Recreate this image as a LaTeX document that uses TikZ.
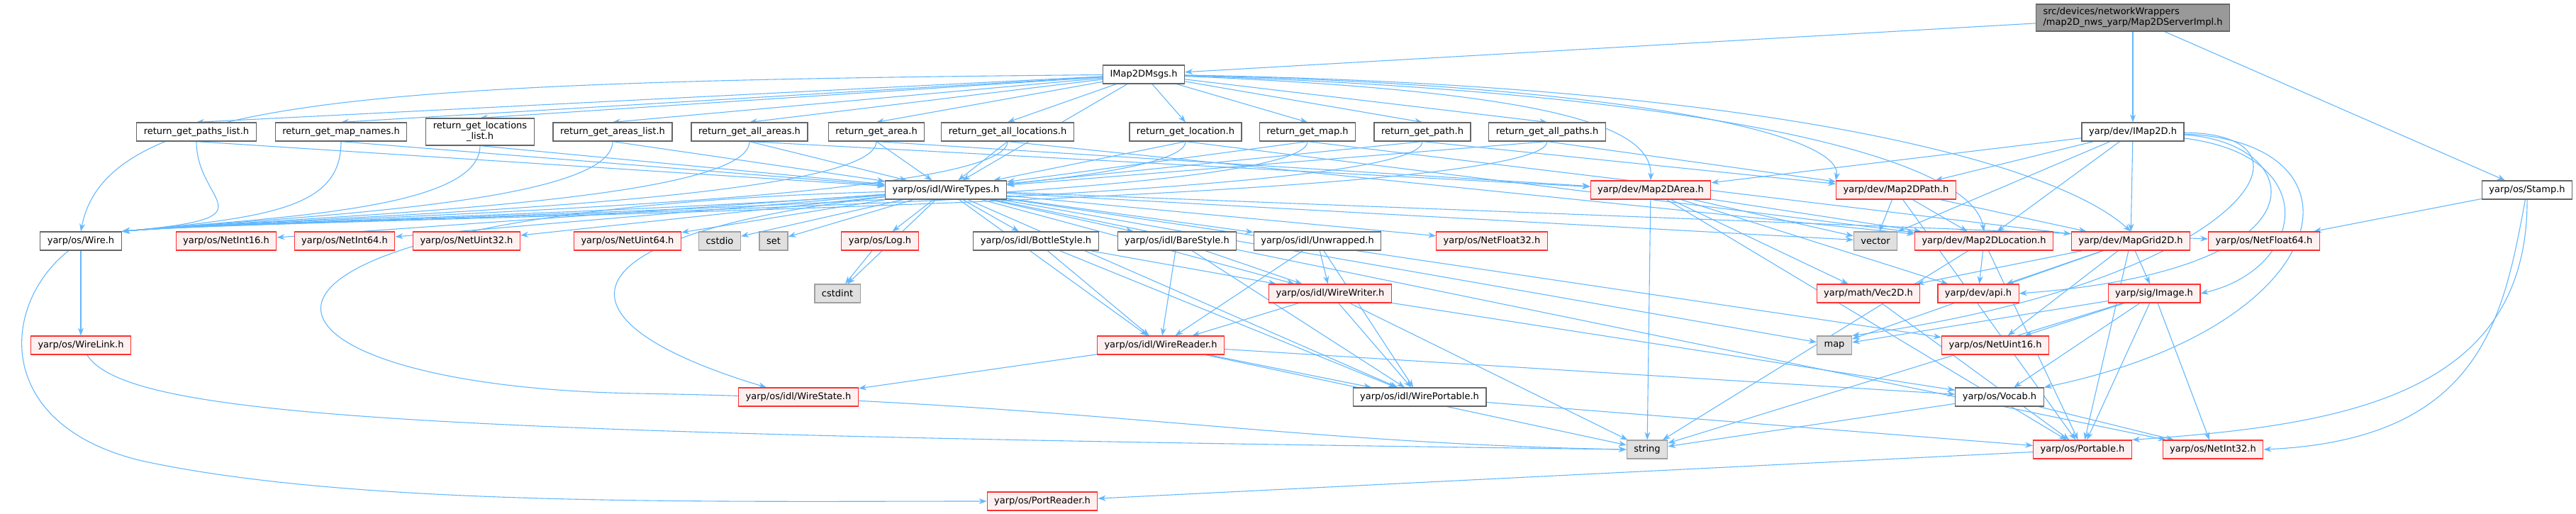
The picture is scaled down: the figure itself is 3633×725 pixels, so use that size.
\documentclass[tikz,border=0pt]{standalone}
\usepackage{fontspec}
\setmainfont{DejaVu Sans}
\usepackage{tikz}
\usetikzlibrary{arrows.meta,backgrounds}

\definecolor{edgeblue}{HTML}{63B8FF}
\definecolor{redfill}{HTML}{FFF0F0}
\definecolor{redline}{HTML}{FF3030}
\definecolor{sysfill}{HTML}{E0E0E0}
\definecolor{sysline}{HTML}{A0A0A0}
\definecolor{srcfill}{HTML}{999999}
\definecolor{boxline}{HTML}{666666}

\tikzset{
  filebox/.style={draw=boxline, fill=white, line width=1.2pt, inner xsep=10pt,
    inner ysep=3pt, minimum height=26pt, font=\fontsize{13}{15}\selectfont},
  redbox/.style={filebox, draw=redline, fill=redfill},
  sysbox/.style={filebox, draw=sysline, fill=sysfill},
  srcbox/.style={filebox, fill=srcfill, align=left, inner ysep=5pt},
  dep/.style={->, draw=edgeblue, line width=1.1pt}
}

\begin{document}
\begin{tikzpicture}[x=1pt, y=-1pt, >={Stealth[length=11pt,width=8pt]}]

  \useasboundingbox (0,0) rectangle (3633,725);

  % top: the file itself and what it pulls in first
  \node[srcbox] (src) at (3008,25)
    {src/devices/networkWrappers\\/map2D\_nws\_yarp/Map2DServerImpl.h};
  \node[filebox] (msgs) at (1613,105) {IMap2DMsgs.h};

  % return_* helpers
  \node[filebox] (rpl)  at (277,186)  {return\_get\_paths\_list.h};
  \node[filebox] (rmn)  at (481,186)  {return\_get\_map\_names.h};
  \node[filebox, align=center, inner ysep=5pt] (rll) at (677,186)
    {return\_get\_locations\\\_list.h};
  \node[filebox] (ral)  at (864,186)  {return\_get\_areas\_list.h};
  \node[filebox] (raa)  at (1057,186) {return\_get\_all\_areas.h};
  \node[filebox] (rar)  at (1236,186) {return\_get\_area.h};
  \node[filebox] (ralo) at (1421,186) {return\_get\_all\_locations.h};
  \node[filebox] (rlo)  at (1672,186) {return\_get\_location.h};
  \node[filebox] (rma)  at (1844,186) {return\_get\_map.h};
  \node[filebox] (rpa)  at (2006,186) {return\_get\_path.h};
  \node[filebox] (rap)  at (2182,186) {return\_get\_all\_paths.h};
  \node[filebox] (imap) at (3008,186) {yarp/dev/IMap2D.h};

  % second level
  \node[filebox] (wtypes) at (1334,268) {yarp/os/idl/WireTypes.h};
  \node[redbox]  (area)   at (2328,268) {yarp/dev/Map2DArea.h};
  \node[redbox]  (mpath)  at (2674,268) {yarp/dev/Map2DPath.h};
  \node[filebox] (stamp)  at (3564,268) {yarp/os/Stamp.h};

  % third level
  \node[filebox] (wire)      at (114,340)  {yarp/os/Wire.h};
  \node[redbox]  (ni16)      at (319,340)  {yarp/os/NetInt16.h};
  \node[redbox]  (ni64)      at (486,340)  {yarp/os/NetInt64.h};
  \node[redbox]  (nu32)      at (658,340)  {yarp/os/NetUint32.h};
  \node[redbox]  (nu64)      at (885,340)  {yarp/os/NetUint64.h};
  \node[sysbox]  (cstdio)    at (1015,340) {cstdio};
  \node[sysbox]  (set)       at (1091,340) {set};
  \node[redbox]  (log)       at (1241,340) {yarp/os/Log.h};
  \node[filebox] (bstyle)    at (1461,340) {yarp/os/idl/BottleStyle.h};
  \node[filebox] (barestyle) at (1660,340) {yarp/os/idl/BareStyle.h};
  \node[filebox] (unwr)      at (1858,340) {yarp/os/idl/Unwrapped.h};
  \node[redbox]  (nf32)      at (2104,340) {yarp/os/NetFloat32.h};
  \node[sysbox]  (vector)    at (2645,340) {vector};
  \node[redbox]  (loc)       at (2798,340) {yarp/dev/Map2DLocation.h};
  \node[redbox]  (grid)      at (3005,340) {yarp/dev/MapGrid2D.h};
  \node[redbox]  (nf64)      at (3193,340) {yarp/os/NetFloat64.h};

  % fourth level
  \node[sysbox] (cstdint) at (1181,414) {cstdint};
  \node[redbox] (wwriter) at (1876,414) {yarp/os/idl/WireWriter.h};
  \node[redbox] (vec2d)   at (2635,414) {yarp/math/Vec2D.h};
  \node[redbox] (api)     at (2790,414) {yarp/dev/api.h};
  \node[redbox] (image)   at (3038,414) {yarp/sig/Image.h};

  % fifth level
  \node[redbox] (wlink)   at (114,487)  {yarp/os/WireLink.h};
  \node[redbox] (wreader) at (1637,487) {yarp/os/idl/WireReader.h};
  \node[sysbox] (map)     at (2587,487) {map};
  \node[redbox] (nu16)    at (2814,487) {yarp/os/NetUint16.h};

  % sixth level
  \node[redbox]  (wstate) at (1126,560) {yarp/os/idl/WireState.h};
  \node[filebox] (wport)  at (2002,560) {yarp/os/idl/WirePortable.h};
  \node[filebox] (vocab)  at (2820,560) {yarp/os/Vocab.h};

  % bottom
  \node[sysbox] (string)   at (2323,634) {string};
  \node[redbox] (portable) at (2937,634) {yarp/os/Portable.h};
  \node[redbox] (ni32)     at (3121,634) {yarp/os/NetInt32.h};
  \node[redbox] (preader)  at (1470,707) {yarp/os/PortReader.h};

  \begin{scope}[on background layer]
    % plain straight dependencies
    \foreach \a/\b in {src/msgs, src/imap, src/stamp, msgs/wtypes,
        wtypes/ni16, wtypes/ni64, wtypes/nu32, wtypes/nu64, wtypes/cstdio,
        wtypes/set, wtypes/log, wtypes/bstyle, wtypes/barestyle, wtypes/unwr,
        wtypes/nf32, wtypes/cstdint, wtypes/wreader, wtypes/wwriter,
        wtypes/wport, wtypes/vector, wtypes/map, wtypes/nf64, wtypes/ni32,
        wtypes/nu16,
        log/cstdint,
        bstyle/wreader, bstyle/wwriter, bstyle/wport,
        barestyle/wreader, barestyle/wwriter, barestyle/wport,
        unwr/wreader, unwr/wwriter, unwr/wport,
        wwriter/wreader, wwriter/wport, wwriter/string, wwriter/vocab,
        wreader/wstate, wreader/wport, wreader/string, wreader/vocab,
        wport/portable, wire/wlink, vocab/string, vocab/ni32,
        portable/preader,
        area/string, area/loc, area/vector, area/api, area/vec2d,
        area/portable,
        mpath/vector, mpath/loc, mpath/grid, mpath/portable,
        loc/api, loc/string, loc/portable,
        imap/area, imap/mpath, imap/vector, imap/loc, imap/grid,
        grid/image, grid/api, grid/vec2d, grid/map, grid/nu16, grid/portable,
        image/map, image/nu16, image/vocab, image/portable, image/ni32,
        image/string,
        vec2d/portable, stamp/nf64}
      \draw[dep] (\a) -- (\b);

    % every return_* file needs Wire.h and WireTypes.h
    \foreach \r in {rpl, rmn, rll, ral, raa, rar, ralo, rlo, rma, rpa, rap} {
      \draw[dep] (msgs) -- (\r.north);
      \draw[dep] (\r.south) .. controls +(0,90) and +(220,-20) .. (wire.north east);
      \draw[dep] (\r.south) -- (wtypes);
    }
    \foreach \a/\b in {rar/area, raa/area, rlo/loc, ralo/loc, rma/grid,
        rpa/mpath, rap/mpath}
      \draw[dep] (\a.south) -- (\b);

    % long routed edges
    \draw[dep] (msgs) .. controls (500,115) and (150,140) .. (wire.north);
    \draw[dep] (msgs) .. controls (2200,130) and (2330,180) .. (area.north);
    \draw[dep] (msgs) .. controls (2300,120) and (2600,190) .. (mpath.north west);
    \draw[dep] (msgs) .. controls (2400,130) and (2780,220) .. (loc.north);
    \draw[dep] (msgs) .. controls (2500,120) and (2900,230) .. (grid.north);
    \draw[dep] (wire) .. controls (0,430) and (-10,600) .. (200,650)
      .. controls (500,715) and (1000,707) .. (preader.west);
    \draw[dep] (wlink) .. controls (180,590) and (600,612) .. (string.west);
    \draw[dep] (wtypes) .. controls (200,300) and (300,545) .. (900,555)
      .. controls (1500,565) and (1800,625) .. (string.west);
    \draw[dep] (wtypes) .. controls (790,330) and (760,450) .. (wstate);
    \draw[dep] (imap) .. controls (3280,220) and (3250,380) .. (image.east);
    \draw[dep] (imap) .. controls (3250,200) and (3300,380) .. (api.east);
    \draw[dep] (imap) .. controls (3300,190) and (3150,400) .. (map.north east);
    \draw[dep] (imap) .. controls (3350,200) and (3300,460) .. (vocab.north east);
    \draw[dep] (stamp) .. controls (3530,450) and (3500,620) .. (ni32.east);
    \draw[dep] (stamp) .. controls (3565,560) and (3300,600) .. (portable.north east);
  \end{scope}

\end{tikzpicture}
\end{document}
